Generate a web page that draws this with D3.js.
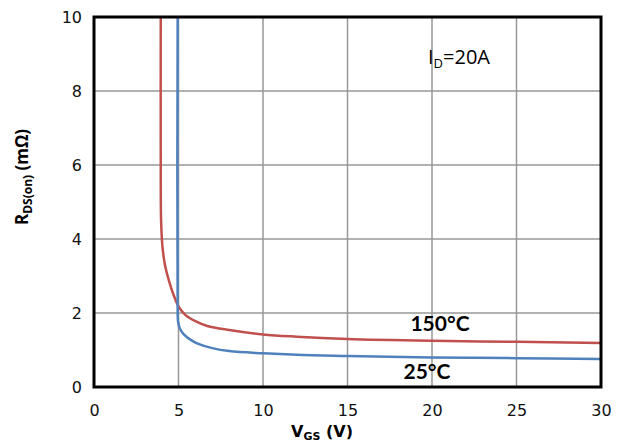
<!DOCTYPE html>
<html lang="en">
<head>
  <meta charset="UTF-8">
  <title>RDS(on) vs VGS</title>
  <script src="https://d3js.org/d3.v7.min.js"></script>
  <style>
    body { margin: 0; background: #fff; }
    .tick text { font-family: "DejaVu Sans", sans-serif; font-size: 16px; fill: #111; }
  </style>
</head>
<body>
  <svg width="625" height="444"></svg>
  <script>
    // data
    const xTicks = [0, 5, 10, 15, 20, 25, 30];
    const yTicks = [0, 2, 4, 6, 8, 10];

    const vgs150 = [3.95, 3.95, 3.97, 4.05, 4.2, 4.45, 4.7, 5.0, 5.4, 6.0, 6.7, 8, 10, 12, 15, 20, 25, 30];
    const rds150 = [10, 6.0, 4.5, 3.8, 3.3, 2.85, 2.5, 2.18, 1.95, 1.78, 1.65, 1.54, 1.42, 1.36, 1.3, 1.25, 1.22, 1.19];

    const vgs25 = [4.95, 4.95, 4.98, 5.1, 5.3, 5.7, 6.1, 7, 8, 10, 12, 15, 20, 25, 30];
    const rds25 = [10, 2.0, 1.75, 1.56, 1.43, 1.28, 1.18, 1.05, 0.97, 0.91, 0.87, 0.84, 0.8, 0.78, 0.76];

    const svg = d3.select('svg');
    const padding = { top: 17, right: 24, bottom: 57, left: 94 };
    const width = +svg.attr('width') - padding.left - padding.right;
    const height = +svg.attr('height') - padding.top - padding.bottom;

    const xScale = d3.scaleLinear().domain([0, 30]).range([padding.left, padding.left + width]);
    const yScale = d3.scaleLinear().domain([0, 10]).range([padding.top + height, padding.top]);

    // grid
    svg.append('g')
      .selectAll('line.v')
      .data(xTicks.slice(1, -1))
      .enter().append('line')
      .attr('x1', d => xScale(d)).attr('x2', d => xScale(d))
      .attr('y1', padding.top).attr('y2', padding.top + height)
      .attr('stroke', '#979797').attr('stroke-width', 1.5);

    svg.append('g')
      .selectAll('line.h')
      .data(yTicks.slice(1, -1))
      .enter().append('line')
      .attr('x1', padding.left).attr('x2', padding.left + width)
      .attr('y1', d => yScale(d)).attr('y2', d => yScale(d))
      .attr('stroke', '#979797').attr('stroke-width', 1.5);

    // axes (labels only)
    const xAxis = d3.axisBottom(xScale).tickValues(xTicks).tickSize(0).tickPadding(18);
    const yAxis = d3.axisLeft(yScale).tickValues(yTicks).tickSize(0).tickPadding(12);

    svg.append('g')
      .attr('transform', `translate(0, ${padding.top + height})`)
      .call(xAxis)
      .call(g => g.select('.domain').remove());

    svg.append('g')
      .attr('transform', `translate(${padding.left}, 0)`)
      .call(yAxis)
      .call(g => g.select('.domain').remove());

    // curves
    const line = d3.line()
      .x(d => xScale(d[0]))
      .y(d => yScale(d[1]))
      .curve(d3.curveCatmullRom.alpha(0.5));

    svg.append('path')
      .datum(vgs150.map((v, i) => [v, rds150[i]]))
      .attr('fill', 'none')
      .attr('stroke', '#c0504d')
      .attr('stroke-width', 2.5)
      .attr('d', line);

    svg.append('path')
      .datum(vgs25.map((v, i) => [v, rds25[i]]))
      .attr('fill', 'none')
      .attr('stroke', '#4f81bd')
      .attr('stroke-width', 2.5)
      .attr('d', line);

    // frame
    svg.append('rect')
      .attr('x', padding.left).attr('y', padding.top)
      .attr('width', width).attr('height', height)
      .attr('fill', 'none').attr('stroke', '#000').attr('stroke-width', 3);

    // labels
    svg.append('text')
      .attr('x', 440).attr('y', 331)
      .attr('text-anchor', 'middle')
      .style('font-family', 'Lato, sans-serif').style('font-weight', 'bold').style('font-size', '21px')
      .text('150°C');

    svg.append('text')
      .attr('x', 427).attr('y', 379)
      .attr('text-anchor', 'middle')
      .style('font-family', 'Lato, sans-serif').style('font-weight', 'bold').style('font-size', '21px')
      .text('25°C');

    const id = svg.append('text')
      .attr('x', 428).attr('y', 64)
      .style('font-family', '"Open Sans", sans-serif').style('font-size', '20px');
    id.append('tspan').text('I');
    id.append('tspan').attr('dy', 4).style('font-size', '13px').text('D');
    id.append('tspan').attr('dy', -4).text('=20A');

    const xt = svg.append('text')
      .attr('x', 322).attr('y', 437)
      .attr('text-anchor', 'middle')
      .style('font-family', '"DejaVu Sans", sans-serif').style('font-weight', 'bold').style('font-size', '16px');
    xt.append('tspan').text('V');
    xt.append('tspan').attr('dy', 3).style('font-size', '11px').text('GS');
    xt.append('tspan').attr('dy', -3).text(' (V)');

    const yt = svg.append('text')
      .attr('transform', 'translate(28, 177) rotate(-90)')
      .attr('text-anchor', 'middle')
      .style('font-family', '"Open Sans", sans-serif').style('font-weight', 'bold').style('font-size', '17px');
    yt.append('tspan').text('R');
    yt.append('tspan').attr('dy', 4).style('font-size', '12px').text('DS(on)');
    yt.append('tspan').attr('dy', -4).text(' (mΩ)');
  </script>
</body>
</html>
